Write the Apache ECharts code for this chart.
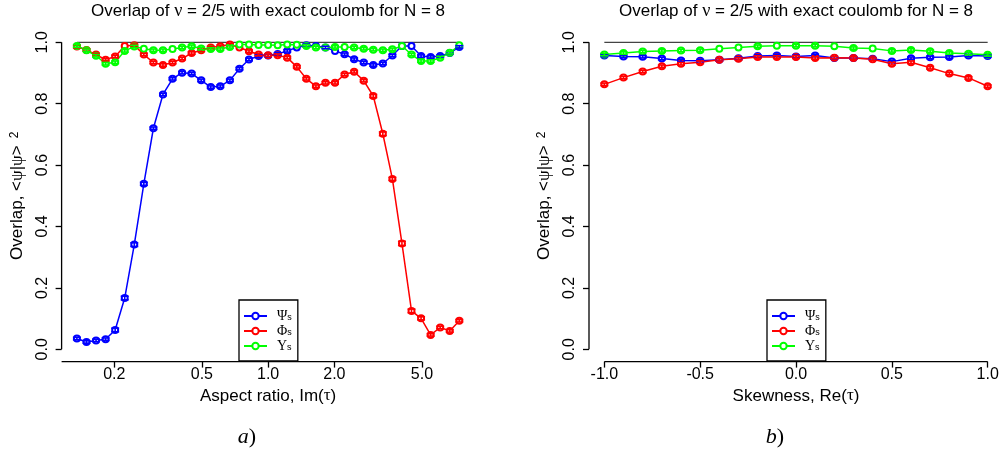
<!DOCTYPE html>
<html>
<head>
<meta charset="utf-8">
<script src="https://cdn.jsdelivr.net/npm/echarts@6/dist/echarts.min.js"></script>
<style>
  html, body { margin: 0; padding: 0; background: #ffffff; }
  #chart { width: 1003px; height: 459px; }
</style>
</head>
<body>
<div id="chart"></div>
<script>
// ---- panel a): overlap versus aspect ratio Im(tau) ----
const aspectRatio = [
  0.1353, 0.1496, 0.1653, 0.1827, 0.2019, 0.2231, 0.2466, 0.2725, 0.3012, 0.3329,
  0.3679, 0.4066, 0.4493, 0.4966, 0.5488, 0.6065, 0.6703, 0.7408, 0.8187, 0.9048,
  1.0000, 1.1052, 1.2214, 1.3499, 1.4918, 1.6487, 1.8221, 2.0138, 2.2255, 2.4596,
  2.7183, 3.0042, 3.3201, 3.6693, 4.0552, 4.4817, 4.9530, 5.4739, 6.0496, 6.6859,
  7.3891
];
const aspectPsi = [
  0.035, 0.024, 0.029, 0.033, 0.063, 0.167, 0.341, 0.539, 0.720, 0.830,
  0.881, 0.901, 0.898, 0.876, 0.854, 0.857, 0.876, 0.914, 0.944, 0.955,
  0.957, 0.962, 0.972, 0.983, 0.990, 0.988, 0.983, 0.972, 0.961, 0.945,
  0.934, 0.926, 0.931, 0.957, 0.988, 0.988, 0.955, 0.952, 0.955, 0.965,
  0.985
];
const aspectPhi = [
  0.986, 0.975, 0.960, 0.943, 0.954, 0.988, 0.990, 0.960, 0.934, 0.926,
  0.934, 0.947, 0.965, 0.974, 0.983, 0.987, 0.993, 0.983, 0.971, 0.960,
  0.958, 0.958, 0.950, 0.920, 0.881, 0.857, 0.868, 0.868, 0.895, 0.904,
  0.875, 0.825, 0.702, 0.555, 0.345, 0.125, 0.101, 0.047, 0.071, 0.060,
  0.093
];
const aspectUps = [
  0.988, 0.974, 0.956, 0.930, 0.935, 0.972, 0.986, 0.979, 0.974, 0.974,
  0.978, 0.983, 0.987, 0.980, 0.978, 0.978, 0.985, 0.993, 0.993, 0.991,
  0.991, 0.990, 0.993, 0.992, 0.988, 0.983, 0.983, 0.985, 0.985, 0.983,
  0.979, 0.976, 0.974, 0.977, 0.988, 0.960, 0.939, 0.939, 0.950, 0.966,
  0.990
];
// half-widths of the statistical error bars (0 = no bar drawn)
const aspectPsiErr = [
  0.004, 0.004, 0.004, 0.004, 0.006, 0.006, 0.006, 0.005, 0.004, 0.004,
  0.004, 0.004, 0.004, 0.004, 0.004, 0.004, 0.004, 0.004, 0.004, 0.004,
  0.004, 0.004, 0.004, 0, 0.004, 0, 0.004, 0, 0.004, 0.004,
  0.004, 0.004, 0.004, 0.004, 0, 0, 0.004, 0.004, 0.004, 0.004,
  0.004
];
const aspectPhiErr = [
  0.004, 0.004, 0.004, 0.004, 0.004, 0, 0.004, 0.004, 0.004, 0.004,
  0.004, 0.004, 0.004, 0.004, 0.004, 0.004, 0.004, 0, 0.004, 0.004,
  0.004, 0.004, 0.004, 0.004, 0.004, 0.004, 0.004, 0.004, 0.004, 0.004,
  0.004, 0.005, 0.006, 0.005, 0.007, 0.006, 0.005, 0.004, 0.004, 0.004,
  0.004
];
const aspectUpsErr = [
  0.004, 0.004, 0.004, 0.004, 0.004, 0.004, 0.004, 0, 0.004, 0.004,
  0, 0.004, 0.004, 0.004, 0.004, 0.004, 0.004, 0, 0, 0,
  0, 0, 0, 0, 0.004, 0.004, 0, 0.004, 0, 0.004,
  0.004, 0.004, 0.004, 0.004, 0, 0.004, 0.004, 0.004, 0.004, 0.004,
  0
];

// ---- panel b): overlap versus skewness Re(tau) ----
const skewness = [
  -1.0, -0.9, -0.8, -0.7, -0.6, -0.5, -0.4, -0.3, -0.2, -0.1,
  0.0, 0.1, 0.2, 0.3, 0.4, 0.5, 0.6, 0.7, 0.8, 0.9, 1.0
];
const skewPsi = [
  0.957, 0.954, 0.953, 0.947, 0.941, 0.940, 0.943, 0.948, 0.955, 0.957,
  0.954, 0.957, 0.949, 0.949, 0.946, 0.937, 0.948, 0.951, 0.952, 0.957, 0.955
];
const skewPhi = [
  0.863, 0.885, 0.905, 0.922, 0.930, 0.935, 0.943, 0.946, 0.952, 0.952,
  0.952, 0.949, 0.950, 0.949, 0.945, 0.930, 0.935, 0.917, 0.898, 0.884, 0.857
];
const skewUps = [
  0.960, 0.965, 0.970, 0.972, 0.973, 0.974, 0.979, 0.983, 0.987, 0.989,
  0.989, 0.989, 0.987, 0.981, 0.980, 0.972, 0.975, 0.971, 0.965, 0.963, 0.959
];
const skewPsiErr = [
  0.004, 0.004, 0.004, 0.004, 0.004, 0.004, 0.004, 0.004, 0.004, 0.004,
  0.004, 0.004, 0.004, 0.004, 0.004, 0.004, 0.004, 0.004, 0.004, 0.004, 0.004
];
const skewPhiErr = [
  0.004, 0.004, 0.004, 0.004, 0.004, 0.004, 0.004, 0.004, 0.004, 0.004,
  0.004, 0.004, 0.004, 0.004, 0.004, 0.004, 0.004, 0.004, 0.004, 0.004, 0.004
];
const skewUpsErr = [
  0.004, 0.004, 0.004, 0.004, 0.004, 0.004, 0, 0, 0.004, 0,
  0.004, 0.004, 0, 0.004, 0, 0.004, 0.004, 0.004, 0.004, 0.004, 0.004
];

// ---- axes ----
const aspectTicks = [0.2, 0.5, 1.0, 2.0, 5.0];
const skewTicks = [-1.0, -0.5, 0.0, 0.5, 1.0];
const overlapTicks = [0.0, 0.2, 0.4, 0.6, 0.8, 1.0];
const perfectOverlap = 1.0;

const seriesNames = ['Ψs', 'Φs', 'Υs'];
const seriesColors = ['#0000ff', '#ff0000', '#00ff00'];

const SANS = 'Liberation Sans';
const SERIF = 'Liberation Serif';
const FS = 17;      // titles and axis names
const TFS = 16;     // tick labels

// R-style 4% padding of the plotting range
function padRange(lo, hi) {
  const p = 0.04 * (hi - lo);
  return [lo - p, hi + p];
}
const lgAspect = aspectRatio.map(Math.log10);          // aspect ratio on a log10 axis
const aspectRange = padRange(lgAspect[0], lgAspect[lgAspect.length - 1]);
const skewRange = padRange(skewness[0], skewness[skewness.length - 1]);
const overlapRange = padRange(overlapTicks[0], overlapTicks[overlapTicks.length - 1]);

function makeErrorBarItem(color) {
  return function (params, api) {
    const x = api.value(0), lo = api.value(1), hi = api.value(2);
    if (!(hi > lo)) return null;
    const t = api.coord([x, hi]);
    const b = api.coord([x, lo]);
    const half = 4;
    const style = { stroke: color, lineWidth: 1.6, fill: null };
    return {
      type: 'group',
      children: [
        { type: 'line', shape: { x1: t[0], y1: t[1], x2: b[0], y2: b[1] }, style: style },
        { type: 'line', shape: { x1: t[0] - half, y1: t[1], x2: t[0] + half, y2: t[1] }, style: style },
        { type: 'line', shape: { x1: b[0] - half, y1: b[1], x2: b[0] + half, y2: b[1] }, style: style }
      ]
    };
  };
}

// axis lines drawn R-style: y line spans the tick range, x line ends at the outer tick
function frameSeries(gridIdx, xLineFrom, xLineTo, yLineX) {
  return {
    type: 'custom',
    name: 'frame' + gridIdx,
    xAxisIndex: gridIdx,
    yAxisIndex: gridIdx,
    silent: true,
    z: 5,
    data: [[xLineFrom, overlapRange[0]]],
    renderItem: function (params, api) {
      const yb = overlapRange[0];
      const a1 = api.coord([xLineFrom, yb]);
      const a2 = api.coord([xLineTo, yb]);
      const b1 = api.coord([yLineX, overlapTicks[0]]);
      const b2 = api.coord([yLineX, overlapTicks[overlapTicks.length - 1]]);
      const st = { stroke: '#000', lineWidth: 1.3, fill: null };
      return {
        type: 'group',
        children: [
          { type: 'line', shape: { x1: a1[0], y1: a1[1], x2: a2[0], y2: a2[1] }, style: st },
          { type: 'line', shape: { x1: b1[0], y1: b1[1], x2: b2[0], y2: b2[1] }, style: st }
        ]
      };
    }
  };
}

function panelSeries(gridIdx, xs, ys, errs) {
  const out = [];
  // reference line at perfect overlap across the sampled range
  out.push({
    type: 'line',
    name: 'ref' + gridIdx,
    xAxisIndex: gridIdx, yAxisIndex: gridIdx,
    data: [[xs[0], perfectOverlap], [xs[xs.length - 1], perfectOverlap]],
    symbol: 'none',
    silent: true,
    lineStyle: { color: '#444444', width: 1.2 },
    z: 1
  });
  ys.forEach(function (vals, s) {
    out.push({
      type: 'line',
      name: seriesNames[s],
      xAxisIndex: gridIdx, yAxisIndex: gridIdx,
      data: vals.map(function (v, i) { return [xs[i], v]; }),
      symbol: 'emptyCircle',
      symbolSize: 6,
      showSymbol: true,
      silent: true,
      emphasis: { disabled: true },
      lineStyle: { color: seriesColors[s], width: 1.5 },
      itemStyle: { color: seriesColors[s], borderColor: seriesColors[s], borderWidth: 1.3 },
      z: 2
    });
    out.push({
      type: 'custom',
      name: seriesNames[s] + ' err' + gridIdx,
      xAxisIndex: gridIdx, yAxisIndex: gridIdx,
      silent: true,
      data: vals.map(function (v, i) { return [xs[i], v - errs[s][i], v + errs[s][i]]; }),
      encode: { x: 0, y: [1, 2] },
      renderItem: makeErrorBarItem(seriesColors[s]),
      z: 3
    });
  });
  return out;
}

const tickLabelStyle = { color: '#000', fontFamily: SANS, fontSize: TFS };

function yAxisFor(gridIdx) {
  return {
    type: 'value',
    gridIndex: gridIdx,
    min: overlapRange[0],
    max: overlapRange[1],
    axisLine: { show: false, onZero: false },
    splitLine: { show: false },
    axisTick: { show: true, customValues: overlapTicks, length: 6, lineStyle: { color: '#000', width: 1.3 } },
    axisLabel: Object.assign({
      customValues: overlapTicks,
      rotate: 90,
      margin: 11,
      formatter: function (v) { return v.toFixed(1); }
    }, tickLabelStyle),
    name: '{a|Overlap, <}{g|ψ}{a||}{g|ψ}{a|>}{sup|2}',
    nameLocation: 'middle',
    nameRotate: 90,
    nameGap: 36,
    nameTextStyle: {
      rich: {
        a: { fontFamily: SANS, fontSize: FS, color: '#000' },
        g: { fontFamily: SERIF, fontSize: FS, color: '#000' },
        sup: { fontFamily: SANS, fontSize: 12, color: '#000', verticalAlign: 'top', padding: [0, 0, 0, 7] }
      }
    }
  };
}

const axisNameRich = {
  a: { fontFamily: SANS, fontSize: FS, color: '#000' },
  g: { fontFamily: SERIF, fontSize: FS, color: '#000' }
};

function legendFor(left) {
  return {
    data: seriesNames,
    left: left,
    top: 300,
    orient: 'vertical',
    selectedMode: false,
    backgroundColor: '#ffffff',
    borderColor: '#000000',
    borderWidth: 1.3,
    borderRadius: 0,
    padding: [9, 6, 8, 4],
    itemGap: 1,
    itemWidth: 23,
    itemHeight: 8,
    formatter: function (name) {
      return '{g|' + name.charAt(0) + '}{s|' + name.slice(1) + '}';
    },
    textStyle: {
      rich: {
        g: { fontFamily: SERIF, fontSize: 14, lineHeight: 12, color: '#000', padding: [0, 0, 0, 5] },
        s: { fontFamily: SANS, fontSize: 9, lineHeight: 12, color: '#000', verticalAlign: 'bottom' }
      }
    }
  };
}

const titleText = '{a|Overlap of }{g|ν}{a| = 2/5 with exact coulomb for N = 8}';
const titleRich = {
  a: { fontFamily: SANS, fontSize: FS, fill: '#000' },
  g: { fontFamily: SERIF, fontSize: FS + 1, fill: '#000' }
};

const option = {
  animation: false,
  backgroundColor: '#ffffff',
  grid: [
    { left: 61.6, top: 30, width: 413, height: 331.6 },
    { left: 589, top: 30, width: 414.7, height: 331.6 }
  ],
  xAxis: [
    {
      type: 'value',
      gridIndex: 0,
      min: aspectRange[0],
      max: aspectRange[1],
      axisLine: { show: false, onZero: false },
      splitLine: { show: false },
      axisTick: { show: true, customValues: aspectTicks.map(Math.log10), length: 6, lineStyle: { color: '#000', width: 1.3 } },
      axisLabel: Object.assign({
        customValues: aspectTicks.map(Math.log10),
        margin: 5,
        formatter: function (v) { return Math.pow(10, v).toFixed(1); }
      }, tickLabelStyle),
      name: '{a|Aspect ratio, Im(}{g|τ}{a|)}',
      nameLocation: 'middle',
      nameGap: 17,
      nameTextStyle: { rich: axisNameRich }
    },
    {
      type: 'value',
      gridIndex: 1,
      min: skewRange[0],
      max: skewRange[1],
      axisLine: { show: false, onZero: false },
      splitLine: { show: false },
      axisTick: { show: true, customValues: skewTicks, length: 6, lineStyle: { color: '#000', width: 1.3 } },
      axisLabel: Object.assign({
        customValues: skewTicks,
        margin: 5,
        formatter: function (v) { return v.toFixed(1); }
      }, tickLabelStyle),
      name: '{a|Skewness, Re(}{g|τ}{a|)}',
      nameLocation: 'middle',
      nameGap: 17,
      nameTextStyle: { rich: axisNameRich }
    }
  ],
  yAxis: [yAxisFor(0), yAxisFor(1)],
  legend: [legendFor(239), legendFor(767)],
  series: [].concat(
    panelSeries(0, lgAspect, [aspectPsi, aspectPhi, aspectUps], [aspectPsiErr, aspectPhiErr, aspectUpsErr]),
    panelSeries(1, skewness, [skewPsi, skewPhi, skewUps], [skewPsiErr, skewPhiErr, skewUpsErr]),
    [
      frameSeries(0, aspectRange[0], Math.log10(aspectTicks[aspectTicks.length - 1]), aspectRange[0]),
      frameSeries(1, skewTicks[0], skewTicks[skewTicks.length - 1], skewRange[0])
    ]
  ),
  graphic: [
    { type: 'text', x: 268, y: 11, silent: true,
      style: { text: titleText, rich: titleRich, align: 'center', verticalAlign: 'middle' } },
    { type: 'text', x: 796, y: 11, silent: true,
      style: { text: titleText, rich: titleRich, align: 'center', verticalAlign: 'middle' } },
    { type: 'text', x: 247, y: 437, silent: true,
      style: { text: '{i|a}{r|)}', align: 'center', verticalAlign: 'middle',
        rich: { i: { fontFamily: SERIF, fontStyle: 'italic', fontSize: 22, fill: '#000' },
                r: { fontFamily: SERIF, fontSize: 22, fill: '#000' } } } },
    { type: 'text', x: 775, y: 437, silent: true,
      style: { text: '{i|b}{r|)}', align: 'center', verticalAlign: 'middle',
        rich: { i: { fontFamily: SERIF, fontStyle: 'italic', fontSize: 22, fill: '#000' },
                r: { fontFamily: SERIF, fontSize: 22, fill: '#000' } } } }
  ]
};

const chart = echarts.init(document.getElementById('chart'), null, { renderer: 'canvas' });
chart.setOption(option);
</script>
</body>
</html>
